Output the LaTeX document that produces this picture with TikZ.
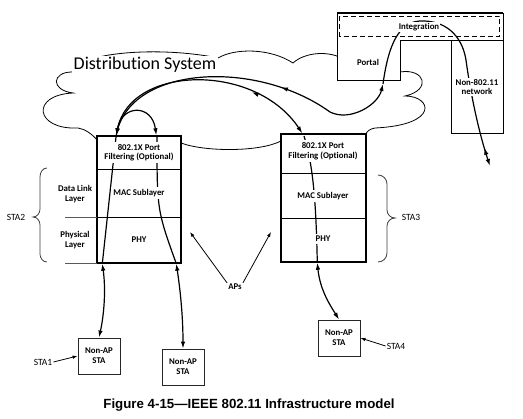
\documentclass[tikz,border=0pt]{standalone}
\usepackage{fontspec}
\setmainfont{Carlito}[Ligatures=NoCommon]
\newfontfamily\capfont{Liberation Sans}
\usetikzlibrary{arrows.meta,decorations.markings,calc}
\tikzset{
  myarr/.tip={Latex[length=7pt,width=4.5pt]},
  conn/.style={line width=1.2pt, black},
  apbox/.style={draw, line width=1.4pt, fill=white, inner sep=0pt},
  divider/.style={line width=0.7pt},
  lbl/.style={font=\bfseries\fontsize{8.8pt}{9.5pt}\selectfont, align=center, fill=white, inner sep=2pt},
  stabox/.style={draw=black!85, line width=0.9pt, fill=white, minimum width=42pt, minimum height=36pt, align=center, inner sep=0pt, font=\bfseries\fontsize{8.8pt}{10pt}\selectfont},
  stalbl/.style={font=\fontsize{9.5pt}{11pt}\selectfont, inner sep=1pt},
  thinarr/.style={line width=0.8pt, -{Latex[length=5pt,width=3.5pt]}},
  bracestyle/.style={line width=0.8pt, black!75},
  cloudline/.style={line width=0.8pt, black},
  midrev/.style={postaction={decorate}, decoration={markings, mark=at position #1 with {\arrowreversed{myarr}}}},
}
\begin{document}
\begin{tikzpicture}[x=1pt,y=-1pt]
\useasboundingbox (0,0) rectangle (523,419);
\fill[white] (0,0) rectangle (523,419);

% cloud (Distribution System)
\draw[cloudline] (72,72) .. controls (78,52) and (160,46) .. (218,58)
  .. controls (235,48) and (270,48) .. (293,63)
  .. controls (305,52) and (330,50) .. (345,60) -- (400,72)
  .. controls (425,68) and (432,90) .. (405,96)
  .. controls (432,96) and (440,125) .. (375,128)
  .. controls (370,129) and (367,131) .. (366,134) -- (281,141)
  .. controls (260,152) and (205,152) .. (181,143) -- (97,140)
  .. controls (92,134) and (85,129) .. (78,128)
  .. controls (35,130) and (30,95) .. (73,93)
  .. controls (50,90) and (52,72) .. cycle;
\node[anchor=base west, font=\fontsize{18pt}{20pt}\selectfont, fill=white, inner sep=1.5pt] (ds) at (72,70) {Distribution System};

% portal / integration / non-802.11
\draw[line width=0.9pt, fill=white] (337,13) -- (503,13) -- (503,133) -- (451,133) -- (451,40) -- (400,40) -- (400,80) -- (337,80) -- cycle;
\draw[line width=0.9pt] (451,40) -- (503,40);
\draw[line width=1.3pt] (337,13) -- (503,13);
\draw[line width=1.2pt, dash pattern=on 5pt off 3pt] (339.5,16.5) rectangle (499.5,36.5);

% AP boxes
\node[apbox, minimum width=84pt, minimum height=127pt] (apL) at (139,199.5) {};
\node[apbox, minimum width=85pt, minimum height=128pt] (apR) at (323.5,198) {};
\draw[divider] (97,169) -- (181,169);
\draw[divider] (97,217) -- (181,217);
\draw[divider] (281,173) -- (366,173);
\draw[divider] (281,218) -- (366,218);
\draw[line width=0.7pt, black!65] (65,217) -- (97,217);
\draw[line width=0.7pt, black!65] (65,263) -- (97,263);

% station boxes
\node[stabox] (sta1) at (99,356) {Non-AP\\STA};
\node[stabox] (sta2) at (183,367) {Non-AP\\STA};
\node[stabox] (sta4) at (339,338) {Non-AP\\STA};

% connector end points
\coordinate (pL1) at ($(apL.north west)+(20,0)$);
\coordinate (pL2) at ($(apL.north west)+(60,0)$);
\coordinate (pLb1) at ($(apL.south west)+(6,0)$);
\coordinate (pLb2) at ($(apL.south west)+(80,0)$);
\coordinate (pR1) at ($(apR.north west)+(22,0)$);
\coordinate (pRb) at ($(apR.south west)+(37,0)$);
\coordinate (pPo) at (383,84);
\coordinate (pOut) at (490,166);

% connectors
\draw[conn, myarr-myarr] (pL1) .. controls (122,104) and (152,104) .. (pL2);
\draw[conn, myarr-myarr, midrev=0.71] (pL1) .. controls (130,65) and (255,62) .. (pR1);
\draw[conn, -myarr, midrev=0.61] (pL1) .. controls (128,66) and (255,58) .. (330,112)
  .. controls (350,122) and (378,105) .. (pPo);
\draw[conn, -myarr, midrev=0.925] (pPo) .. controls (387,55) and (395,22) .. (420,21)
  .. controls (445,20) and (462,35) .. (466,60)
  .. controls (470,90) and (478,130) .. (pOut);

\draw[conn] (116,137) -- (pLb1);
\draw[conn] (157,137) .. controls (157,210) .. (pLb2);
\draw[conn] (304,136) .. controls (313,165) and (316,200) .. (pRb);

\draw[conn, myarr-myarr] (pLb1) .. controls (106,290) and (104,315) .. (sta1.north);
\draw[conn, myarr-myarr] (pLb2) .. controls (181,295) and (183,320) .. (sta2.north);
\draw[conn, myarr-myarr] (pRb) .. controls (320,290) and (330,305) .. (sta4.north);

% labels in boxes
\node[lbl] (fL) at (139,152.5) {802.1X Port\\Filtering (Optional)};
\node[lbl] (macL) at (139,193) {MAC Sublayer};
\node[lbl] (phyL) at (139,240) {PHY};
\node[lbl, fill=none] (dll) at (75,194) {Data Link\\Layer};
\node[lbl, fill=none] (phl) at (75,240) {Physical\\Layer};
\node[lbl] (fR) at (323,151) {802.1X Port\\Filtering (Optional)};
\node[lbl] (macR) at (323,196) {MAC Sublayer};
\node[lbl] (phyR) at (323,239) {PHY};

\node[lbl, inner sep=1pt] (integ) at (419,27) {Integration};
\node[lbl, fill=none] (portal) at (368,62) {Portal};
\node[lbl, inner sep=1pt] (non) at (477,87) {Non-802.11\\network};

% braces
\draw[bracestyle] (47,168) to[out=180,in=90] (40,177) -- (40,209) to[out=-90,in=0] (33,217)
  to[out=0,in=90] (40,225) -- (40,254) to[out=-90,in=180] (47,262);
\draw[bracestyle] (378,175) to[out=0,in=90] (387,184) -- (387,210) to[out=-90,in=180] (395,218)
  to[out=180,in=90] (387,226) -- (387,253) to[out=-90,in=0] (378,262);
\node[stalbl] (sta2l) at (16,217) {STA2};
\node[stalbl] (sta3l) at (411,217) {STA3};

% APs
\node[lbl, fill=none, inner sep=1pt] (aps) at (235,287) {APs};
\coordinate (apa1) at (190,232);
\coordinate (apa2) at (271,232);
\draw[thinarr] (aps.north west) -- (apa1);
\draw[thinarr] (aps.north east) -- (apa2);

% STA labels
\node[stalbl] (sta1l) at (43,362) {STA1};
\node[stalbl] (sta4l) at (396,346) {STA4};
\draw[thinarr] (sta1l.east) -- (sta1.west);
\draw[thinarr] (sta4l.west) -- (sta4.east);

% caption
\node[font=\capfont\bfseries\fontsize{13.3pt}{15pt}\selectfont, inner sep=0pt] (cap) at (249,405) {Figure 4-15\textemdash IEEE 802.11 Infrastructure model};
\end{tikzpicture}
\end{document}
